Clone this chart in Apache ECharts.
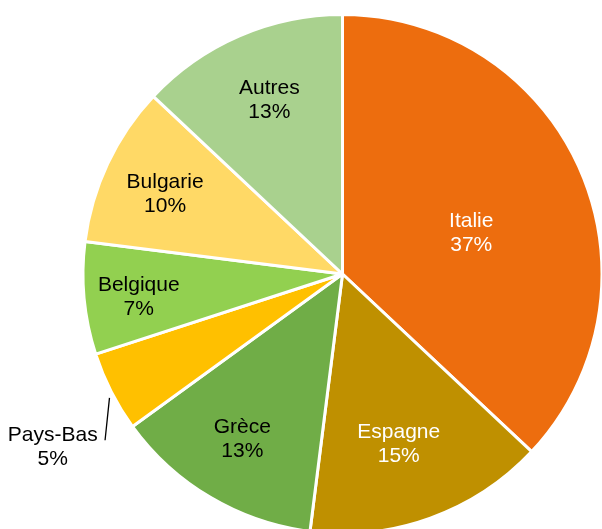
<!DOCTYPE html>
<html>
<head>
<meta charset="utf-8">
<script src="https://cdn.jsdelivr.net/npm/echarts@6/dist/echarts.min.js"></script>
<style>
  html, body { margin: 0; padding: 0; background: #fff; }
  #chart { width: 602px; height: 529px; }
</style>
</head>
<body>
<div id="chart"></div>
<script>
// parts en %, dans l'ordre du sens horaire depuis midi
var categories = ['Italie', 'Espagne', 'Grèce', 'Pays-Bas', 'Belgique', 'Bulgarie', 'Autres'];
var shares = [37, 15, 13, 5, 7, 10, 13];

var sliceColors = ['#ED6D0E', '#BF9000', '#70AD47', '#FFC000', '#92D050', '#FFD966', '#A9D18E'];
var labelColors = ['#fff', '#fff', '#000', '#000', '#000', '#000', '#000'];
// position des etiquettes : fraction du rayon + petit decalage d'angle (degres)
var labelDist = [0.52, 0.69, 0.745, 1.30, 0.79, 0.75, 0.725];
var labelTurn = [6, 1.5, 0.6, -3.8, -1, -0.9, 0.5];

var cx = 342.5, cy = 274, R = 259.5;

var total = 0;
for (var i = 0; i < shares.length; i++) total += shares[i];
var midAngle = [];
var acc = 0;
for (var i = 0; i < shares.length; i++) {
  midAngle.push((acc + shares[i] / 2) / total * 360);
  acc += shares[i];
}
function polar(deg, f) {
  var a = deg * Math.PI / 180;
  return [cx + R * f * Math.sin(a), cy - R * f * Math.cos(a)];
}

var data = [];
for (var i = 0; i < categories.length; i++) {
  var item = {
    name: categories[i],
    value: shares[i],
    itemStyle: { color: sliceColors[i] },
    label: { color: labelColors[i] }
  };
  if (categories[i] == 'Pays-Bas') {
    item.label.position = 'outside';
    item.labelLine = { show: true, length: 10, length2: 10, smooth: false };
  }
  data.push(item);
}

var myChart = echarts.init(document.getElementById('chart'), null, { renderer: 'canvas' });
myChart.setOption({
  animation: false,
  backgroundColor: '#fff',
  series: [{
    type: 'pie',
    center: [cx, cy],
    radius: [0, R],
    startAngle: 90,
    clockwise: true,
    avoidLabelOverlap: false,
    itemStyle: { borderColor: '#fff', borderWidth: 3 },
    label: {
      show: true,
      position: 'inside',
      formatter: '{b}\n{c}%',
      fontFamily: 'Liberation Sans, Arial, sans-serif',
      fontSize: 21,
      lineHeight: 24,
      align: 'center'
    },
    labelLine: { show: false, lineStyle: { color: '#000', width: 1.3 } },
    labelLayout: function (params) {
      var k = params.dataIndex;
      var p = polar(midAngle[k] + labelTurn[k], labelDist[k]);
      var out = { x: p[0], y: p[1], align: 'center', verticalAlign: 'middle' };
      if (categories[k] == 'Pays-Bas') {
        var a = polar(242, 1.017), b = polar(235, 1.117);
        out.labelLinePoints = [a, [(a[0] + b[0]) / 2, (a[1] + b[1]) / 2], b];
      }
      return out;
    },
    data: data
  }]
});
window.onresize = myChart.resize;
</script>
</body>
</html>
